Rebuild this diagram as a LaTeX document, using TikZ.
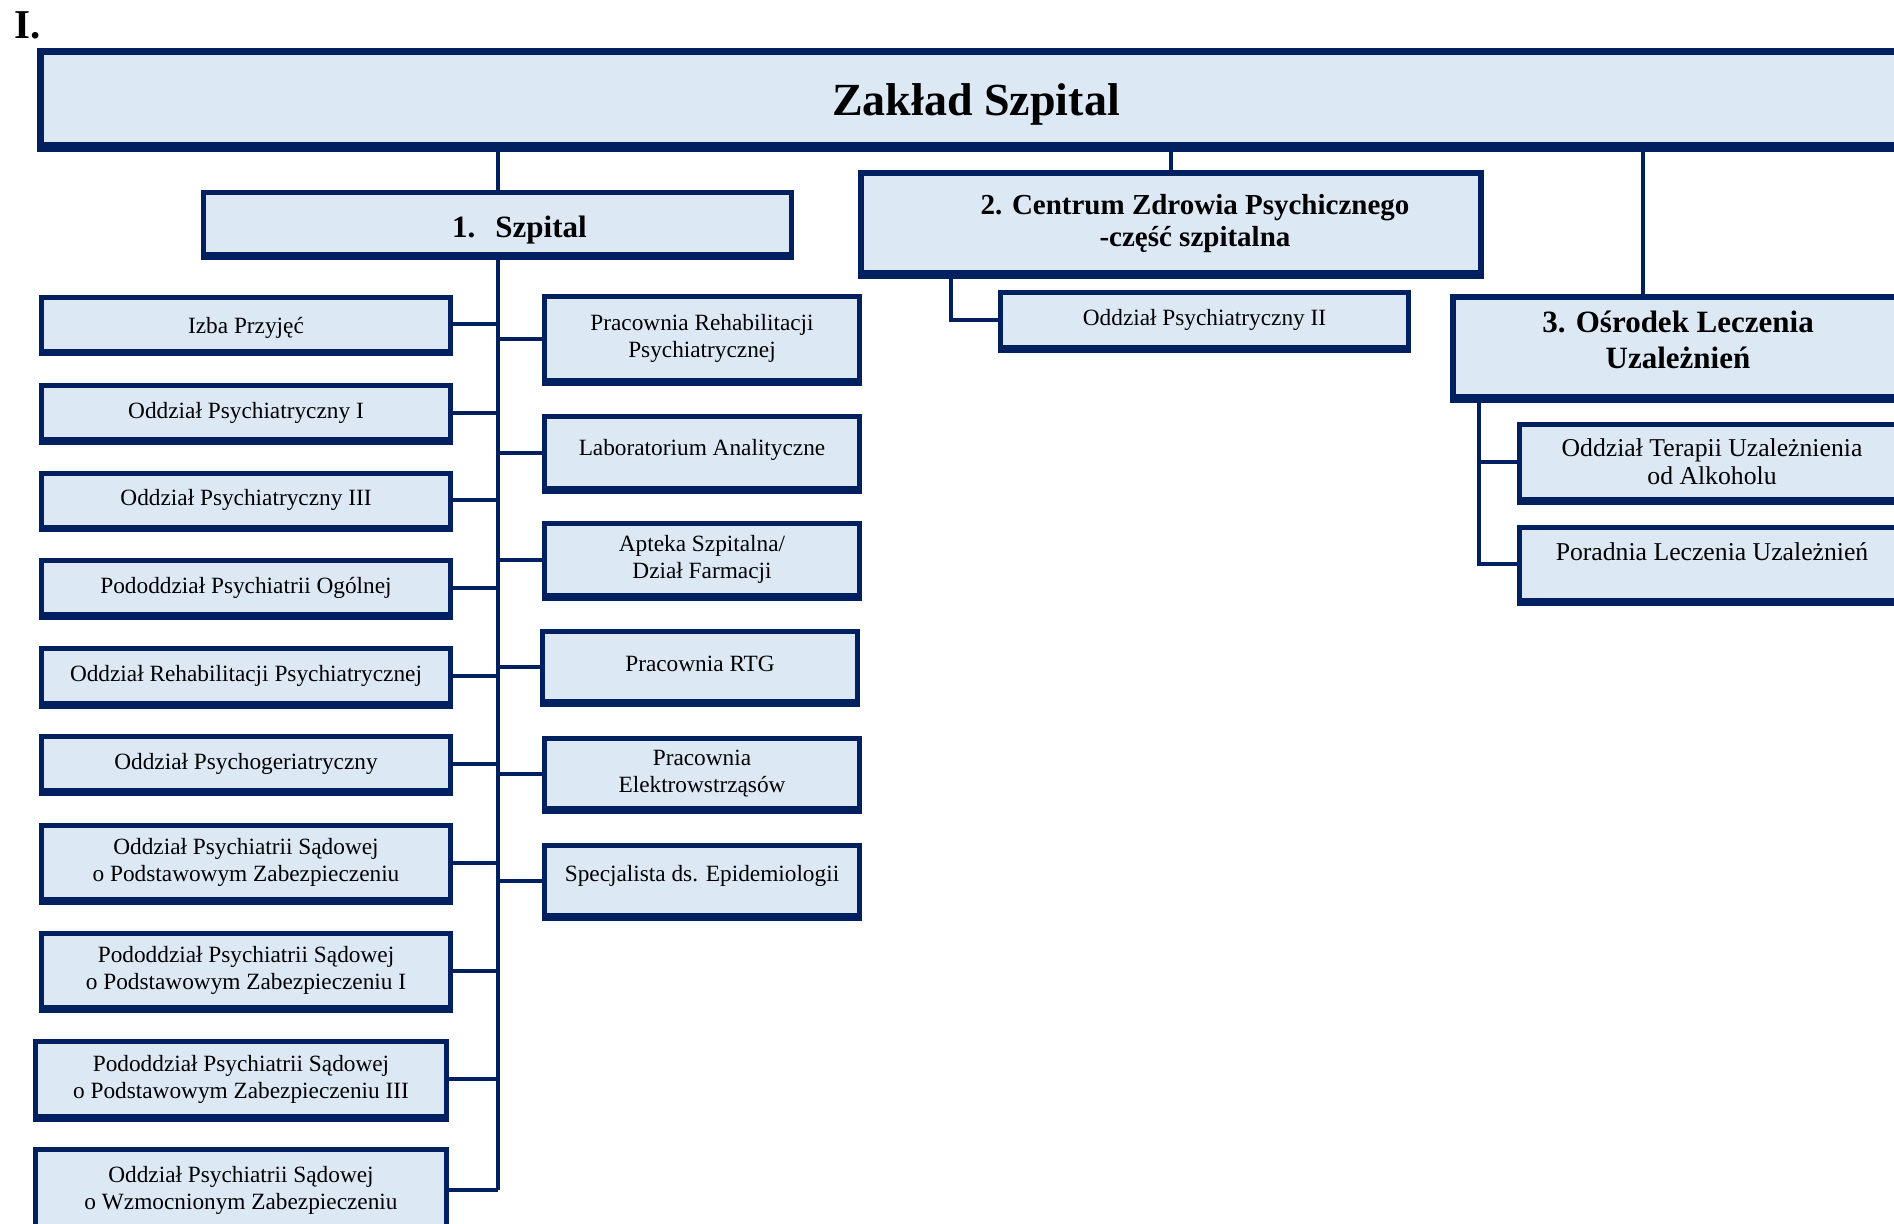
\documentclass[tikz,border=0pt]{standalone}
\usepackage{fontspec}
\setmainfont{Liberation Serif}
\definecolor{orgnavy}{HTML}{002060}
\definecolor{orgfill}{HTML}{DDE8F5}

\begin{document}
\begin{tikzpicture}[x=1pt, y=-1pt,
  unit/.style={rectangle, draw=orgnavy, fill=orgfill, line width=5pt, inner sep=0pt,
    minimum width=409pt, minimum height=54pt, align=center,
    preaction={draw=orgnavy, transform canvas={yshift=-2.5pt}},
    font=\fontsize{23.3}{27}\selectfont},
  side/.style={unit, minimum width=315pt, minimum height=70pt},
  head/.style={unit, line width=6pt},
  headtext/.style={inner sep=0pt, align=center, font=\bfseries\fontsize{29}{32}\selectfont},
  link/.style={draw=orgnavy, line width=4pt}]
\useasboundingbox (0,0) rectangle (1894,1223);
\clip (0,0) rectangle (1894,1223);

\node[anchor=base west, inner sep=0pt, font=\bfseries\fontsize{41}{41}\selectfont] (numeral) at (14,39) {I.};

\node[head, line width=7pt, minimum width=1871pt, minimum height=94pt] (zaklad) at (976,98.5) {};
\node[headtext, anchor=base, font=\bfseries\fontsize{46}{50}\selectfont] (zaklad-t) at (976,115) {Zakład Szpital};

\node[head, line width=5pt, minimum width=588pt, minimum height=62pt] (szpital) at (497.5,223.5) {};
\node[headtext, anchor=base, font=\bfseries\fontsize{31}{34}\selectfont] (szpital-t) at (519.5,237) {1.\hspace{20pt}Szpital};

\node[head, minimum width=620pt, minimum height=100pt] (centrum) at (1171,223) {};
\node[headtext] (centrum-t) at (1195,224) {2. Centrum Zdrowia Psychicznego\\-część szpitalna};

\node[head, minimum width=450pt, minimum height=100pt] (osrodek) at (1678,347) {};
\node[headtext, font=\bfseries\fontsize{31}{36}\selectfont] (osrodek-t) at (1678,340) {3. Ośrodek Leczenia\\Uzależnień};

\node[unit, minimum width=408pt, minimum height=55pt] (odz2) at (1204.5,320) {Oddział Psychiatryczny II};

\node[unit, minimum width=385pt, minimum height=75pt, font=\fontsize{25.7}{28}\selectfont] (terapia) at (1712,462) {Oddział Terapii Uzależnienia\\od Alkoholu};
\node[unit, minimum width=385pt, minimum height=73pt, text depth=24pt, font=\fontsize{25.7}{28}\selectfont] (poradnia) at (1712,564) {Poradnia Leczenia Uzależnień};

\node[unit, text height=24pt] (izba) at (246,324) {Izba Przyjęć};
\node[unit] (odz1) at (246,412.5) {Oddział Psychiatryczny I};
\node[unit] (odz3) at (246,500) {Oddział Psychiatryczny III};
\node[unit] (ogolny) at (246,587.5) {Pododdział Psychiatrii Ogólnej};
\node[unit, minimum height=55pt] (rehab) at (246,676) {Oddział Rehabilitacji Psychiatrycznej};
\node[unit] (geria) at (246,763.5) {Oddział Psychogeriatryczny};
\node[unit, minimum height=74pt] (sad) at (246,862.5) {Oddział Psychiatrii Sądowej\\o Podstawowym Zabezpieczeniu};
\node[unit, minimum height=74pt] (sad1) at (246,970.5) {Pododdział Psychiatrii Sądowej\\o Podstawowym Zabezpieczeniu I};
\node[unit, minimum width=411pt, minimum height=75pt] (sad3) at (241,1079) {Pododdział Psychiatrii Sądowej\\o Podstawowym Zabezpieczeniu III};
\node[unit, minimum width=411pt, minimum height=81pt] (sadw) at (241,1190) {Oddział Psychiatrii Sądowej\\o Wzmocnionym Zabezpieczeniu};

\node[side, minimum height=84pt] (pracreh) at (702,338.5) {Pracownia Rehabilitacji\\Psychiatrycznej};
\node[side, minimum height=72pt, text depth=10pt] (lab) at (702,452.5) {Laboratorium Analityczne};
\node[side, minimum height=72pt] (apteka) at (702,559.5) {Apteka Szpitalna/\\Dział Farmacji};
\node[side, text depth=5pt] (rtg) at (700,666.5) {Pracownia RTG};
\node[side] (ekt) at (702,773.5) {Pracownia\\Elektrowstrząsów};
\node[side, text depth=15pt] (epid) at (702,880.5) {Specjalista ds. Epidemiologii};

\coordinate (osr-in) at ([xshift=193pt]osrodek.north west);
\coordinate (osr-out) at ([xshift=29pt]osrodek.south west);
\coordinate (czp-out) at ([xshift=93pt]centrum.south west);

\draw[link] (szpital.north) -- (szpital.north |- zaklad.south);
\draw[link] (centrum.north) -- (centrum.north |- zaklad.south);
\draw[link] (osr-in) -- (osr-in |- zaklad.south);
\draw[link] (szpital.south) -- (szpital.south |- sadw.east);
\foreach \n in {izba, odz1, odz3, ogolny, rehab, geria, sad, sad1, sad3, sadw}
  \draw[link] (\n.east) -- (\n.east -| szpital.south);
\foreach \n in {pracreh, lab, apteka, rtg, ekt, epid}
  \draw[link] (\n.west) -- (\n.west -| szpital.south);
\draw[link] (czp-out) |- (odz2.west);
\draw[link] (osr-out) |- (terapia.west);
\draw[link] (osr-out) |- (poradnia.west);
\end{tikzpicture}
\end{document}
